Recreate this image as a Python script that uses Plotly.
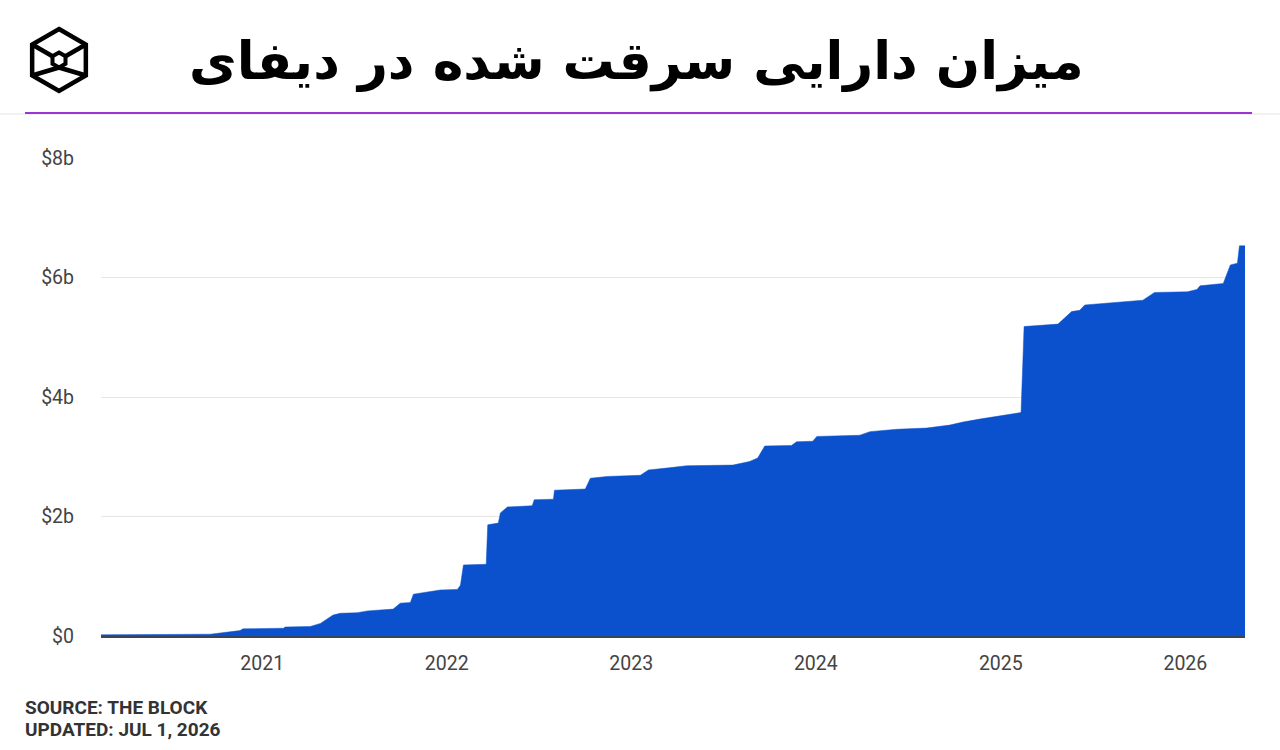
import plotly.graph_objects as go
import math

# ---- data ----
dates = [
    "2020-02-17", "2020-09-20", "2020-11-18", "2020-11-24", "2021-02-12", "2021-02-15",
    "2021-04-06", "2021-04-26", "2021-05-21", "2021-06-04", "2021-07-08", "2021-07-28",
    "2021-09-17", "2021-10-01", "2021-10-21", "2021-10-27", "2021-12-19", "2022-01-22",
    "2022-01-28", "2022-02-03", "2022-03-20", "2022-03-23", "2022-04-13", "2022-04-17",
    "2022-05-01", "2022-06-19", "2022-06-23", "2022-07-31", "2022-08-02", "2022-10-02",
    "2022-10-12", "2022-11-14", "2023-01-19", "2023-02-04", "2023-03-12", "2023-04-21",
    "2023-07-21", "2023-08-23", "2023-09-08", "2023-09-22", "2023-11-14", "2023-11-24",
    "2023-12-26", "2024-01-03", "2024-03-28", "2024-04-17", "2024-06-09", "2024-08-07",
    "2024-09-22", "2024-10-18", "2024-11-20", "2025-02-10", "2025-02-16", "2025-04-24",
    "2025-05-21", "2025-06-06", "2025-06-16", "2025-10-09", "2025-11-01", "2026-01-05",
    "2026-01-24", "2026-01-30", "2026-03-17", "2026-03-31", "2026-04-14", "2026-04-18",
    "2026-04-29",
]
stolen_billion_usd = [
    0.02, 0.03, 0.09, 0.12, 0.13, 0.15,
    0.16, 0.21, 0.35, 0.38, 0.39, 0.42,
    0.45, 0.55, 0.56, 0.70, 0.77, 0.78,
    0.85, 1.19, 1.20, 1.86, 1.89, 2.06,
    2.16, 2.18, 2.28, 2.29, 2.44, 2.46,
    2.64, 2.67, 2.69, 2.78, 2.81, 2.85,
    2.86, 2.92, 2.98, 3.18, 3.19, 3.25,
    3.26, 3.34, 3.36, 3.42, 3.46, 3.48,
    3.53, 3.58, 3.63, 3.74, 5.18, 5.22,
    5.43, 5.45, 5.54, 5.62, 5.75, 5.76,
    5.80, 5.86, 5.90, 6.21, 6.24, 6.53,
    6.53,
]
y_tick_values = [0, 2, 4, 6, 8]
y_tick_labels = ["$0", "$2b", "$4b", "$6b", "$8b"]
x_tick_values = ["2021-01-01", "2022-01-01", "2023-01-01", "2024-01-01", "2025-01-01", "2026-01-01"]
x_tick_labels = ["2021", "2022", "2023", "2024", "2025", "2026"]

title_text = "میزان دارایی سرقت شده در دیفای"
source_lines = ["SOURCE: THE BLOCK", "UPDATED: JUL 1, 2026"]

FILL = "#0b51cd"

fig = go.Figure()
fig.add_trace(go.Scatter(
    x=dates, y=stolen_billion_usd, mode="lines",
    line=dict(color=FILL, width=0.5, shape="linear"),
    fill="tozeroy", fillcolor=FILL, hoverinfo="x+y", showlegend=False,
))

W, H = 1280, 750
L, R, T, B = 101, 35, 158, 114

fig.update_layout(
    width=W, height=H,
    margin=dict(l=L, r=R, t=T, b=B),
    paper_bgcolor="white", plot_bgcolor="white",
    font=dict(family="Roboto, sans-serif", color="#444444", size=19),
    xaxis=dict(
        type="date", range=[dates[0], dates[-1]],
        tickvals=x_tick_values, ticktext=x_tick_labels,
        showgrid=False, zeroline=False, showline=False, ticks="",
        ticklabelstandoff=13,
        tickfont=dict(family="Roboto, sans-serif", size=19.5, color="#444444"),
    ),
    yaxis=dict(
        range=[0, 8], tickvals=y_tick_values, ticktext=y_tick_labels,
        showgrid=True, gridcolor="#e6e6e6", gridwidth=1,
        zeroline=True, zerolinecolor="#3a4456", zerolinewidth=2.5,
        showline=False, ticks="", ticklabelstandoff=26,
        tickfont=dict(family="Roboto, sans-serif", size=19.5, color="#444444"),
    ),
)


def px_x(x):
    return (x - L) / (W - L - R)


def px_y(y):
    return (H - B - y) / (H - T - B)


# Title
fig.add_annotation(
    text="<b>" + title_text + "</b>", xref="paper", yref="paper",
    x=px_x(636), y=px_y(62),
    xanchor="center", yanchor="middle", showarrow=False,
    font=dict(family="DejaVu Sans, Noto Sans, sans-serif", size=52, color="#000000"),
)

# Header rule lines
fig.add_shape(type="line", xref="paper", yref="paper",
              x0=px_x(0), x1=px_x(W), y0=px_y(114), y1=px_y(114),
              line=dict(color="#e4e4e4", width=1))
fig.add_shape(type="line", xref="paper", yref="paper",
              x0=px_x(25), x1=px_x(1252), y0=px_y(113), y1=px_y(113),
              line=dict(color="#9b35d6", width=2))

# Logo (hexagon cube)
cx, cy, r = 59, 60, 31
outer = [(cx + r * math.cos(math.radians(a)), cy + r * math.sin(math.radians(a)))
         for a in (-90, -30, 30, 90, 150, 210)]
ri = 7.5
inner = [(cx + ri * math.cos(math.radians(a)), cy + ri * math.sin(math.radians(a)))
         for a in (-90, -30, 30, 90, 150, 210)]


def path(pts):
    return "M " + " L ".join(f"{px_x(x):.5f},{px_y(y):.5f}" for x, y in pts) + " Z"


logo_line = dict(color="#000000", width=4.5)
fig.add_shape(type="path", xref="paper", yref="paper", path=path(outer), line=logo_line)
fig.add_shape(type="path", xref="paper", yref="paper", path=path(inner), line=dict(color="#000000", width=4))
connectors = [
    (outer[5], inner[5]), (outer[1], inner[1]),
    (outer[4], inner[3]), (outer[2], inner[3]),
]
for (x0, y0), (x1, y1) in connectors:
    fig.add_shape(type="line", xref="paper", yref="paper",
                  x0=px_x(x0), y0=px_y(y0), x1=px_x(x1), y1=px_y(y1), line=logo_line)

# Source
for i, line in enumerate(source_lines):
    fig.add_annotation(
        text="<b>" + line + "</b>", xref="paper", yref="paper",
        x=px_x(23), y=px_y(707 + 22 * i), xanchor="left", yanchor="middle",
        showarrow=False, font=dict(family="Roboto, sans-serif", size=19, color="#333333"),
    )

fig.write_html("out.html")
